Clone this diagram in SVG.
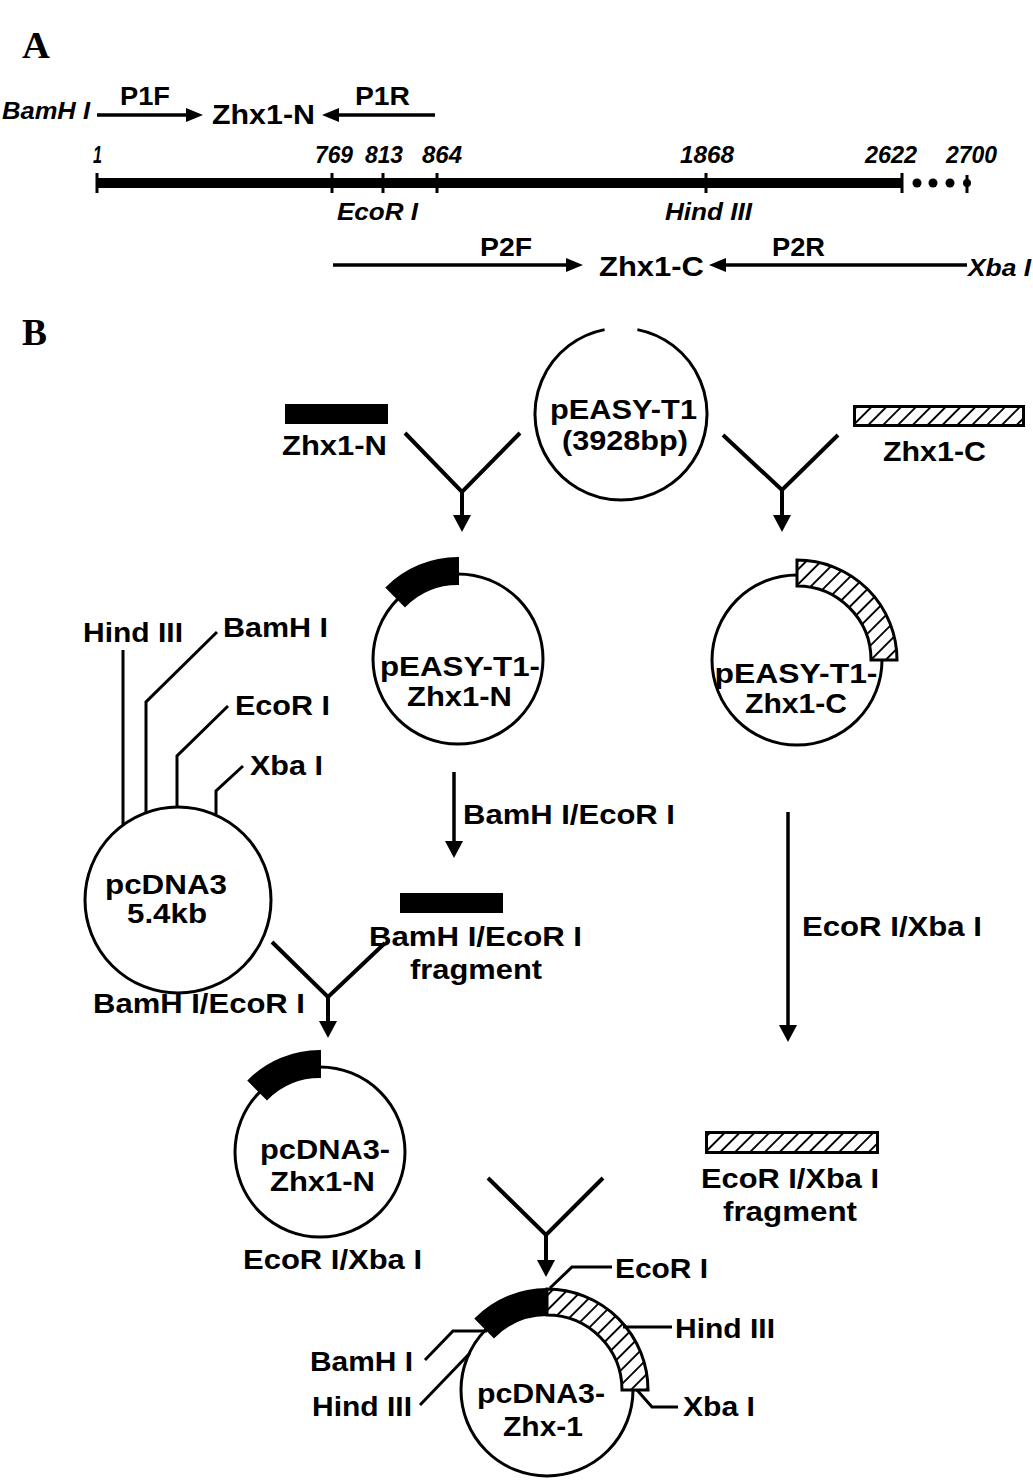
<svg xmlns="http://www.w3.org/2000/svg" width="1033" height="1481" viewBox="0 0 1033 1481">
<style>
.t{font-family:"Liberation Sans",Arial,sans-serif;font-weight:bold;font-size:28px;fill:#000}
.ta{font-family:"Liberation Sans",Arial,sans-serif;font-weight:bold;font-size:25px;fill:#000}
.tz{font-family:"Liberation Sans",Arial,sans-serif;font-weight:bold;font-size:28px;fill:#000}
.ti{font-family:"Liberation Sans",Arial,sans-serif;font-weight:bold;font-style:italic;font-size:23px;fill:#000}
.tn{font-family:"Liberation Sans",Arial,sans-serif;font-weight:bold;font-style:italic;font-size:23px;fill:#000}
.hd{font-family:"Liberation Serif","Times New Roman",serif;font-weight:bold;font-size:38px;fill:#000}
.c{fill:none;stroke:#000;stroke-width:3}
.ln{fill:none;stroke:#000;stroke-width:3}
.ar{fill:none;stroke:#000;stroke-width:3.5}
.y{fill:none;stroke:#000;stroke-width:4}
.blk{fill:#000;stroke:#000;stroke-width:2}
.hat{fill:url(#hatch);stroke:#000;stroke-width:3}
</style>
<defs>
<pattern id="hatch" width="10.5" height="10.5" patternUnits="userSpaceOnUse" patternTransform="rotate(45)">
<rect width="10.5" height="10.5" fill="#fff"/>
<line x1="0" y1="0" x2="0" y2="10.5" stroke="#000" stroke-width="3.8"/>
</pattern>
<marker id="ah" viewBox="0 0 17 18" refX="11" refY="9" markerWidth="17" markerHeight="18" markerUnits="userSpaceOnUse" orient="auto"><path d="M0,0 L17,9 L0,18 Z" fill="#000"/></marker>
<marker id="ahs" viewBox="0 0 17 14" refX="11" refY="7" markerWidth="17" markerHeight="14" markerUnits="userSpaceOnUse" orient="auto"><path d="M0,0 L17,7 L0,14 Z" fill="#000"/></marker>
</defs>
<rect width="1033" height="1481" fill="#fff"/>

<!-- Panel headings -->
<text class="hd" x="22" y="58" textLength="28" lengthAdjust="spacingAndGlyphs">A</text>
<text class="hd" x="22" y="345" textLength="25" lengthAdjust="spacingAndGlyphs">B</text>

<!-- Panel A: gene map -->
<g id="gene-map">
<line x1="97" y1="183" x2="902" y2="183" stroke="#000" stroke-width="10"/>
<g stroke="#000" stroke-width="3">
<line x1="97" y1="173" x2="97" y2="193"/>
<line x1="332" y1="173" x2="332" y2="193"/>
<line x1="383" y1="173" x2="383" y2="193"/>
<line x1="437" y1="173" x2="437" y2="193"/>
<line x1="706" y1="173" x2="706" y2="193"/>
<line x1="902" y1="173" x2="902" y2="193"/>
<line x1="967" y1="175" x2="967" y2="193"/>
</g>
<circle cx="917" cy="183" r="4.5"/>
<circle cx="933" cy="183" r="4.5"/>
<circle cx="950" cy="183" r="4.5"/>
<circle cx="967" cy="183" r="4"/>
<text class="tn" x="93" y="163" textLength="9" lengthAdjust="spacingAndGlyphs">1</text>
<text class="tn" x="315" y="163" textLength="38" lengthAdjust="spacingAndGlyphs">769</text>
<text class="tn" x="365" y="163" textLength="38" lengthAdjust="spacingAndGlyphs">813</text>
<text class="tn" x="422" y="163" textLength="40" lengthAdjust="spacingAndGlyphs">864</text>
<text class="tn" x="680" y="163" textLength="54" lengthAdjust="spacingAndGlyphs">1868</text>
<text class="tn" x="865" y="163" textLength="52" lengthAdjust="spacingAndGlyphs">2622</text>
<text class="tn" x="946" y="163" textLength="51" lengthAdjust="spacingAndGlyphs">2700</text>
<text class="ti" x="337" y="220" textLength="81" lengthAdjust="spacingAndGlyphs">EcoR I</text>
<text class="ti" x="665" y="220" textLength="87" lengthAdjust="spacingAndGlyphs">Hind III</text>
</g>

<g id="primer-N">
<text class="ti" x="2" y="119" textLength="88" lengthAdjust="spacingAndGlyphs">BamH I</text>
<text class="ta" x="120" y="105" textLength="50" lengthAdjust="spacingAndGlyphs">P1F</text>
<text class="tz" x="212" y="124" textLength="103" lengthAdjust="spacingAndGlyphs">Zhx1-N</text>
<text class="ta" x="355" y="105" textLength="55" lengthAdjust="spacingAndGlyphs">P1R</text>
</g>

<g id="primer-C">
<text class="ta" x="480" y="256" textLength="52" lengthAdjust="spacingAndGlyphs">P2F</text>
<text class="tz" x="599" y="276" textLength="105" lengthAdjust="spacingAndGlyphs">Zhx1-C</text>
<text class="ta" x="772" y="256" textLength="53" lengthAdjust="spacingAndGlyphs">P2R</text>
<text class="ti" x="968" y="276" textLength="63" lengthAdjust="spacingAndGlyphs">Xba I</text>
</g>

<!-- Panel B nodes -->
<g id="zhx1-n-insert">
<rect x="285" y="404" width="103" height="20" fill="#000"/>
<text class="t" x="282" y="455" textLength="105" lengthAdjust="spacingAndGlyphs">Zhx1-N</text>
</g>

<g id="peasy-t1">
<path class="c" d="M637.4,329.6 A86,86 0 1 1 604.6,329.6"/>
<text class="t" x="623.5" y="419" text-anchor="middle" textLength="147" lengthAdjust="spacingAndGlyphs">pEASY-T1</text>
<text class="t" x="625" y="450" text-anchor="middle" textLength="126" lengthAdjust="spacingAndGlyphs">(3928bp)</text>
</g>

<g id="zhx1-c-insert">
<rect class="hat" x="854.5" y="406.5" width="169" height="19"/>
<text class="t" x="883" y="461" textLength="103" lengthAdjust="spacingAndGlyphs">Zhx1-C</text>
</g>

<g id="peasy-t1-zhx1-n">
<circle class="c" cx="458" cy="659" r="85"/>
<path class="blk" d="M386.6,587.6 A101,101 0 0 1 458,558 L458,584 A75,75 0 0 0 405,606 Z"/>
<text class="t" x="460" y="676" text-anchor="middle" textLength="160" lengthAdjust="spacingAndGlyphs">pEASY-T1-</text>
<text class="t" x="459.5" y="706" text-anchor="middle" textLength="105" lengthAdjust="spacingAndGlyphs">Zhx1-N</text>
</g>

<g id="peasy-t1-zhx1-c">
<circle class="c" cx="797" cy="660" r="85"/>
<path class="hat" d="M797,560 A100,100 0 0 1 897,660 L871,660 A74,74 0 0 0 797,586 Z"/>
<text class="t" x="796" y="683" text-anchor="middle" textLength="163" lengthAdjust="spacingAndGlyphs">pEASY-T1-</text>
<text class="t" x="796" y="713" text-anchor="middle" textLength="102" lengthAdjust="spacingAndGlyphs">Zhx1-C</text>
</g>

<g id="pcdna3">
<circle class="c" cx="178" cy="900" r="93"/>
<polyline class="ln" points="123,650 123,825"/>
<polyline class="ln" points="217,632 146,702 146,813"/>
<polyline class="ln" points="228,706 177,756 177,807"/>
<polyline class="ln" points="243,766 216,791 216,815"/>
<text class="t" x="83" y="642" textLength="100" lengthAdjust="spacingAndGlyphs">Hind III</text>
<text class="t" x="223" y="637" textLength="105" lengthAdjust="spacingAndGlyphs">BamH I</text>
<text class="t" x="235" y="715" textLength="95" lengthAdjust="spacingAndGlyphs">EcoR I</text>
<text class="t" x="250" y="775" textLength="73" lengthAdjust="spacingAndGlyphs">Xba I</text>
<text class="t" x="166" y="894" text-anchor="middle" textLength="122" lengthAdjust="spacingAndGlyphs">pcDNA3</text>
<text class="t" x="167" y="923" text-anchor="middle" textLength="80" lengthAdjust="spacingAndGlyphs">5.4kb</text>
<text class="t" x="93" y="1013" textLength="212" lengthAdjust="spacingAndGlyphs">BamH I/EcoR I</text>
</g>

<g id="bamhi-ecori-fragment">
<rect x="400" y="893" width="103" height="20" fill="#000"/>
<text class="t" x="369" y="946" textLength="213" lengthAdjust="spacingAndGlyphs">BamH I/EcoR I</text>
<text class="t" x="410" y="979" textLength="132" lengthAdjust="spacingAndGlyphs">fragment</text>
</g>

<g id="pcdna3-zhx1-n">
<circle class="c" cx="320" cy="1152" r="85"/>
<path class="blk" d="M248.6,1080.6 A101,101 0 0 1 320,1051 L320,1077 A75,75 0 0 0 267,1099 Z"/>
<text class="t" x="325" y="1159" text-anchor="middle" textLength="130" lengthAdjust="spacingAndGlyphs">pcDNA3-</text>
<text class="t" x="322.5" y="1191" text-anchor="middle" textLength="105" lengthAdjust="spacingAndGlyphs">Zhx1-N</text>
<text class="t" x="243" y="1269" textLength="179" lengthAdjust="spacingAndGlyphs">EcoR I/Xba I</text>
</g>

<g id="ecori-xbai-fragment">
<rect class="hat" x="706.5" y="1132.5" width="171" height="20"/>
<text class="t" x="701" y="1188" textLength="178" lengthAdjust="spacingAndGlyphs">EcoR I/Xba I</text>
<text class="t" x="723" y="1221" textLength="134" lengthAdjust="spacingAndGlyphs">fragment</text>
</g>

<g id="pcdna3-zhx-1">
<circle class="c" cx="547" cy="1390" r="86"/>
<path class="hat" d="M547,1289 A101,101 0 0 1 648,1390 L622,1390 A75,75 0 0 0 547,1315 Z"/>
<path class="blk" d="M475.6,1318.6 A101,101 0 0 1 547,1289 L547,1315 A75,75 0 0 0 494,1337 Z"/>
<polyline class="ln" points="550,1288 572,1267 612,1267"/>
<polyline class="ln" points="623,1327 672,1327"/>
<polyline class="ln" points="637,1390 652,1407 678,1407"/>
<polyline class="ln" points="425,1360 453,1331 487,1331"/>
<polyline class="ln" points="420,1405 470,1353"/>
<text class="t" x="615" y="1278" textLength="93" lengthAdjust="spacingAndGlyphs">EcoR I</text>
<text class="t" x="675" y="1338" textLength="100" lengthAdjust="spacingAndGlyphs">Hind III</text>
<text class="t" x="683" y="1416" textLength="72" lengthAdjust="spacingAndGlyphs">Xba I</text>
<text class="t" x="310" y="1371" textLength="103" lengthAdjust="spacingAndGlyphs">BamH I</text>
<text class="t" x="312" y="1416" textLength="100" lengthAdjust="spacingAndGlyphs">Hind III</text>
<text class="t" x="541" y="1403" text-anchor="middle" textLength="128" lengthAdjust="spacingAndGlyphs">pcDNA3-</text>
<text class="t" x="543" y="1436" text-anchor="middle" textLength="80" lengthAdjust="spacingAndGlyphs">Zhx-1</text>
</g>

<!-- Connectors -->
<g id="connectors">
<path class="ar" d="M97,115 L197,115" marker-end="url(#ahs)"/>
<path class="ar" d="M435,115 L328,115" marker-end="url(#ahs)"/>
<path class="ar" d="M333,265 L577,265" marker-end="url(#ahs)"/>
<path class="ar" d="M967,265 L715,265" marker-end="url(#ahs)"/>
<path class="y" d="M405,433 L462,492 L520,433"/>
<path class="y" d="M462,492 L462,526" marker-end="url(#ah)"/>
<path class="y" d="M723,435 L782,490 L838,435"/>
<path class="y" d="M782,490 L782,526" marker-end="url(#ah)"/>
<path class="ar" d="M454,772 L454,852" marker-end="url(#ah)"/>
<text class="t" x="463" y="824" textLength="212" lengthAdjust="spacingAndGlyphs">BamH I/EcoR I</text>
<path class="ar" d="M788,812 L788,1036" marker-end="url(#ah)"/>
<text class="t" x="802" y="936" textLength="180" lengthAdjust="spacingAndGlyphs">EcoR I/Xba I</text>
<path class="y" d="M272,942 L328,997 L385,943"/>
<path class="y" d="M328,997 L328,1032" marker-end="url(#ah)"/>
<path class="y" d="M488,1178 L546,1235 L603,1178"/>
<path class="y" d="M546,1235 L546,1271" marker-end="url(#ah)"/>
</g>
</svg>
